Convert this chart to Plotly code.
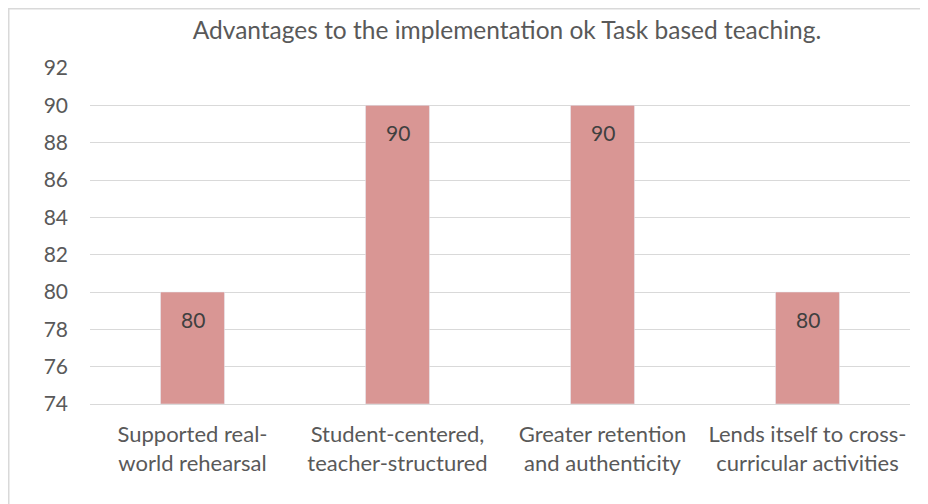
import plotly.graph_objects as go

categories = [
    "Supported real-<br>world rehearsal",
    "Student-centered,<br>teacher-structured",
    "Greater retention<br>and authenticity",
    "Lends itself to cross-<br>curricular activities",
]
values = [80, 90, 90, 80]
y_ticks = [74, 76, 78, 80, 82, 84, 86, 88, 90, 92]
y_min, y_max = 74, 92
title_text = "Advantages to the implementation ok Task based teaching."

FONT = "Lato"
TEXT = "#595959"
GRID = "#D9D9D9"
BAR = "#D99694"

# page offset of the figure div (body margin)
OFF = 8
W, H = 928, 504
ML, MR, MT, MB = 90 - OFF, W - (910 - OFF), 68 - OFF, H - (404 - OFF)

fig = go.Figure()
fig.add_trace(go.Bar(
    x=categories, y=[v - y_min for v in values], base=y_min,
    marker_color=BAR, width=0.312, hoverinfo="skip",
))

for c, v in zip(categories, values):
    fig.add_annotation(x=c, y=v, text=str(v), showarrow=False,
                       yanchor="middle", yshift=-27,
                       font=dict(family=FONT, size=21, color="#404040"))

fig.update_layout(
    width=W, height=H,
    margin=dict(l=ML, r=MR, t=MT, b=MB),
    paper_bgcolor="white", plot_bgcolor="white",
    showlegend=False,
    title=dict(text=title_text, x=(507 - OFF) / W, xref="container", xanchor="center",
               y=1 - (30 - OFF) / H, yref="container", yanchor="middle",
               font=dict(family=FONT, size=24.5, color=TEXT)),
    font=dict(family=FONT, size=21, color=TEXT),
)
fig.update_yaxes(range=[y_min, y_max], tickvals=y_ticks, showgrid=True, gridcolor=GRID,
                 gridwidth=1, zeroline=False, showline=False, ticks="",
                 ticklabelstandoff=21, tickfont=dict(size=21), fixedrange=True)
fig.update_xaxes(showline=True, linecolor=GRID, linewidth=1, ticks="",
                 ticklabelstandoff=11, tickfont=dict(size=22), showgrid=False,
                 fixedrange=True)

# chart-area border (extends past the window on right and bottom)
pw, ph = W - ML - MR, H - MT - MB
fig.add_shape(type="rect", xref="paper", yref="paper",
              x0=(0.75 - ML) / pw, x1=(W + 40 - ML) / pw,
              y0=-(H + 40 - (H - MB)) / ph, y1=(H - MB - 0.75) / ph,
              line=dict(color=GRID, width=1.5), fillcolor="rgba(0,0,0,0)", layer="below")

fig.write_html("out.html")
